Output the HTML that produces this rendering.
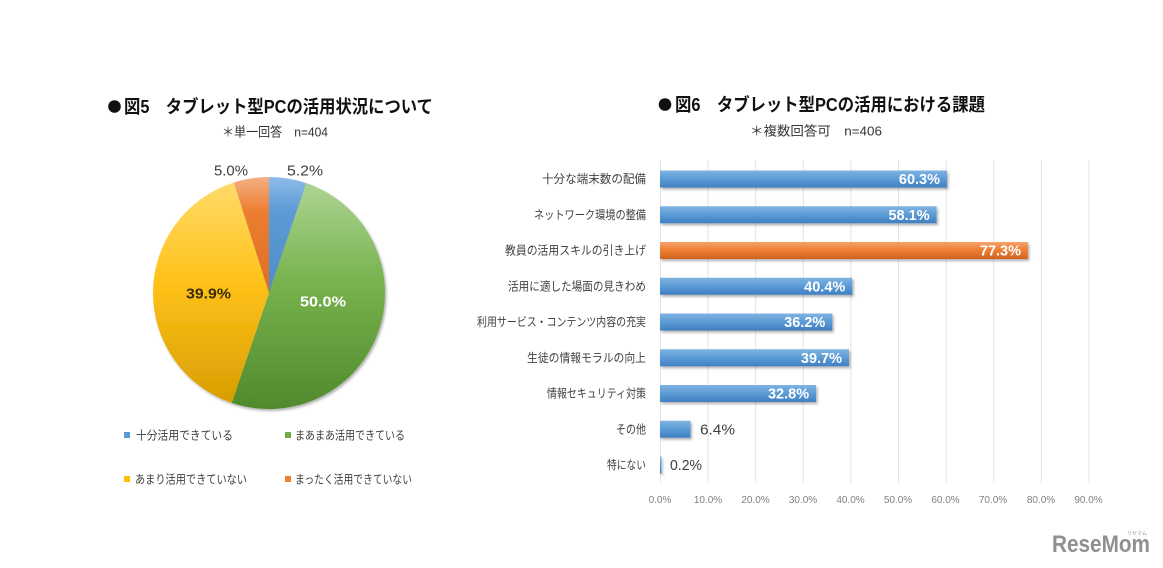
<!DOCTYPE html>
<html><head><meta charset="utf-8"><style>
html,body{margin:0;padding:0;background:#fff;}
svg{display:block;}
text{font-family:"Liberation Sans","Noto Sans CJK JP",sans-serif;}
</style></head><body>
<svg width="1163" height="568" viewBox="0 0 1163 568" xmlns="http://www.w3.org/2000/svg">
<defs>
<linearGradient id="gB" gradientUnits="userSpaceOnUse" x1="0" y1="177" x2="0" y2="409"><stop offset="0" stop-color="#8dbbe8"/><stop offset="0.15" stop-color="#5b9bd5"/><stop offset="1" stop-color="#3f78b5"/></linearGradient>
<linearGradient id="gG" gradientUnits="userSpaceOnUse" x1="0" y1="177" x2="0" y2="409"><stop offset="0" stop-color="#b0d697"/><stop offset="0.45" stop-color="#78b34e"/><stop offset="1" stop-color="#4f8a2c"/></linearGradient>
<linearGradient id="gY" gradientUnits="userSpaceOnUse" x1="0" y1="177" x2="0" y2="409"><stop offset="0" stop-color="#ffdc6e"/><stop offset="0.45" stop-color="#ffc21a"/><stop offset="1" stop-color="#d69c00"/></linearGradient>
<linearGradient id="gO" gradientUnits="userSpaceOnUse" x1="0" y1="177" x2="0" y2="409"><stop offset="0" stop-color="#f4b083"/><stop offset="0.15" stop-color="#ed7d31"/><stop offset="1" stop-color="#c55a11"/></linearGradient>
<linearGradient id="bB" x1="0" y1="0" x2="0" y2="1"><stop offset="0" stop-color="#7fb3e3"/><stop offset="0.5" stop-color="#5b9bd5"/><stop offset="1" stop-color="#3f7fc2"/></linearGradient>
<linearGradient id="bO" x1="0" y1="0" x2="0" y2="1"><stop offset="0" stop-color="#f5a36c"/><stop offset="0.5" stop-color="#ed7d31"/><stop offset="1" stop-color="#cf6420"/></linearGradient>
<filter id="sh" x="-5%" y="-30%" width="115%" height="180%"><feDropShadow dx="1.5" dy="2" stdDeviation="1.2" flood-color="#000" flood-opacity="0.3"/></filter>
</defs>

<!-- Figure 5 -->
<circle cx="114.5" cy="106.5" r="6.3" fill="#111"/>
<text x="124" y="113" font-size="18" font-weight="bold" fill="#111" textLength="309" lengthAdjust="spacingAndGlyphs">図5　タブレット型PCの活用状況について</text>
<text x="222" y="136.5" font-size="13" fill="#333" textLength="106" lengthAdjust="spacingAndGlyphs">＊単一回答　n=404</text>

<g filter="url(#sh)">
<path d="M269,293 L269,177 A116,116 0 0 1 306.24,183.14 Z" fill="url(#gB)"/>
<path d="M269,293 L306.24,183.14 A116,116 0 0 1 231.76,402.86 Z" fill="url(#gG)"/>
<path d="M269,293 L231.76,402.86 A116,116 0 0 1 233.85,182.45 Z" fill="url(#gY)"/>
<path d="M269,293 L233.85,182.45 A116,116 0 0 1 269,177 Z" fill="url(#gO)"/>
</g>

<text x="287" y="175.5" font-size="15" fill="#404040" textLength="36" lengthAdjust="spacingAndGlyphs">5.2%</text>
<text x="214" y="175.5" font-size="15" fill="#404040" textLength="34" lengthAdjust="spacingAndGlyphs">5.0%</text>
<text x="186" y="298.5" font-size="15" font-weight="bold" fill="#3a2c05" textLength="45" lengthAdjust="spacingAndGlyphs">39.9%</text>
<text x="300" y="306.5" font-size="15" font-weight="bold" fill="#fff" textLength="46" lengthAdjust="spacingAndGlyphs">50.0%</text>

<rect x="124" y="432" width="6" height="6" fill="#5b9bd5"/>
<text x="136" y="439.5" font-size="12" fill="#404040" textLength="97" lengthAdjust="spacingAndGlyphs">十分活用できている</text>
<rect x="285" y="432" width="6" height="6" fill="#70ad47"/>
<text x="295" y="439.5" font-size="12" fill="#404040" textLength="110" lengthAdjust="spacingAndGlyphs">まあまあ活用できている</text>
<rect x="124" y="476" width="6" height="6" fill="#ffc000"/>
<text x="135" y="483.5" font-size="12" fill="#404040" textLength="112" lengthAdjust="spacingAndGlyphs">あまり活用できていない</text>
<rect x="285" y="476" width="6" height="6" fill="#ed7d31"/>
<text x="295" y="483.5" font-size="12" fill="#404040" textLength="117" lengthAdjust="spacingAndGlyphs">まったく活用できていない</text>

<!-- Figure 6 -->
<circle cx="665" cy="104.5" r="6.3" fill="#111"/>
<text x="675" y="111" font-size="18" font-weight="bold" fill="#111" textLength="310" lengthAdjust="spacingAndGlyphs">図6　タブレット型PCの活用における課題</text>
<text x="750" y="135.5" font-size="13" fill="#333" textLength="132" lengthAdjust="spacingAndGlyphs">＊複数回答可　n=406</text>

<g stroke="#e3e3e3" stroke-width="1">
<line x1="660.5" y1="160" x2="660.5" y2="483"/>
<line x1="708.1" y1="160" x2="708.1" y2="483"/>
<line x1="755.7" y1="160" x2="755.7" y2="483"/>
<line x1="803.3" y1="160" x2="803.3" y2="483"/>
<line x1="850.9" y1="160" x2="850.9" y2="483"/>
<line x1="898.5" y1="160" x2="898.5" y2="483"/>
<line x1="946.1" y1="160" x2="946.1" y2="483"/>
<line x1="993.7" y1="160" x2="993.7" y2="483"/>
<line x1="1041.3" y1="160" x2="1041.3" y2="483"/>
<line x1="1088.9" y1="160" x2="1088.9" y2="483"/>
</g>

<g filter="url(#sh)">
<rect x="660" y="170.5" width="287" height="17" fill="url(#bB)"/>
<rect x="660" y="206.25" width="276.6" height="17" fill="url(#bB)"/>
<rect x="660" y="242" width="367.9" height="17" fill="url(#bO)"/>
<rect x="660" y="277.75" width="192.3" height="17" fill="url(#bB)"/>
<rect x="660" y="313.5" width="172.3" height="17" fill="url(#bB)"/>
<rect x="660" y="349.25" width="189" height="17" fill="url(#bB)"/>
<rect x="660" y="385" width="156.1" height="17" fill="url(#bB)"/>
<rect x="660" y="420.75" width="30.5" height="17" fill="url(#bB)"/>
<rect x="660" y="456.5" width="1.5" height="17" fill="url(#bB)"/>
</g>

<g font-size="14.5" font-weight="bold" fill="#fff" text-anchor="end">
<text x="940" y="184">60.3%</text>
<text x="929.6" y="219.75">58.1%</text>
<text x="1021" y="255.5">77.3%</text>
<text x="845.3" y="291.25">40.4%</text>
<text x="825.3" y="327">36.2%</text>
<text x="842" y="362.75">39.7%</text>
<text x="809.1" y="398.5">32.8%</text>
</g>
<text x="700" y="434.5" font-size="15" fill="#404040" textLength="35" lengthAdjust="spacingAndGlyphs">6.4%</text>
<text x="670" y="470" font-size="15" fill="#404040" textLength="32" lengthAdjust="spacingAndGlyphs">0.2%</text>

<g font-size="12" fill="#404040" text-anchor="end">
<text x="646" y="183" textLength="104" lengthAdjust="spacingAndGlyphs">十分な端末数の配備</text>
<text x="646" y="218.75" textLength="112" lengthAdjust="spacingAndGlyphs">ネットワーク環境の整備</text>
<text x="646" y="254.5" textLength="141" lengthAdjust="spacingAndGlyphs">教員の活用スキルの引き上げ</text>
<text x="646" y="290.25" textLength="138" lengthAdjust="spacingAndGlyphs">活用に適した場面の見きわめ</text>
<text x="646" y="326" textLength="169" lengthAdjust="spacingAndGlyphs">利用サービス・コンテンツ内容の充実</text>
<text x="646" y="361.75" textLength="119" lengthAdjust="spacingAndGlyphs">生徒の情報モラルの向上</text>
<text x="646" y="397.5" textLength="99" lengthAdjust="spacingAndGlyphs">情報セキュリティ対策</text>
<text x="646" y="433.25" textLength="30" lengthAdjust="spacingAndGlyphs">その他</text>
<text x="646" y="469" textLength="39" lengthAdjust="spacingAndGlyphs">特にない</text>
</g>

<g font-size="10" fill="#7f7f7f" text-anchor="middle">
<text x="660" y="503">0.0%</text>
<text x="708" y="503">10.0%</text>
<text x="755.5" y="503">20.0%</text>
<text x="803" y="503">30.0%</text>
<text x="850.5" y="503">40.0%</text>
<text x="898" y="503">50.0%</text>
<text x="945.5" y="503">60.0%</text>
<text x="993" y="503">70.0%</text>
<text x="1041" y="503">80.0%</text>
<text x="1088.5" y="503">90.0%</text>
</g>

<!-- logo -->
<text x="1052" y="552" font-size="24" font-weight="bold" fill="#909090" textLength="98" lengthAdjust="spacingAndGlyphs">ReseMom</text>
<text x="1127" y="535" font-size="5" fill="#999">リセマム</text>
</svg>
</body></html>
